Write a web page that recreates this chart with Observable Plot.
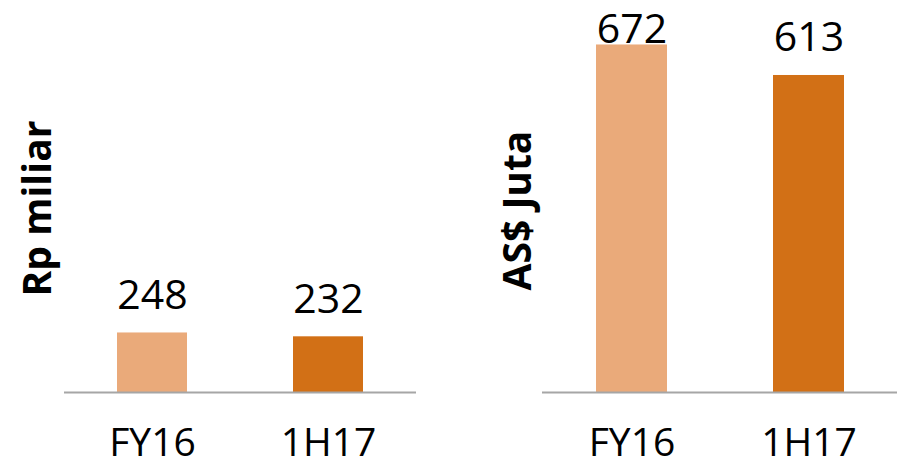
<!DOCTYPE html>
<html>
<head>
<meta charset="utf-8">
<script src="https://cdn.jsdelivr.net/npm/d3@7"></script>
<script src="https://cdn.jsdelivr.net/npm/@observablehq/plot@0.6"></script>
<style>
  html, body { margin: 0; padding: 0; background: white; }
  #wrap { display: flex; width: 897px; height: 462px; }
</style>
</head>
<body>
<div id="wrap"></div>
<script>
const categories = ["FY16", "1H17"];
const rpValues = [248, 232];
const audValues = [672, 613];
const barColors = ["#EAAA7A", "#D27016"];
const rpTitle = "Rp miliar";
const audTitle = "AS$ Juta";

function panel({values, yMax, title, width, marginLeft, marginRight, titleDx, titleDy}) {
  const data = categories.map((c, i) => ({cat: c, value: values[i], color: barColors[i]}));
  const H = 462, mb = 70, plotH = H - mb;
  const k = plotH / yMax;
  return Plot.plot({
    width, height: H, marginTop: 0, marginBottom: mb, marginLeft, marginRight,
    style: {fontFamily: "'Open Sans', sans-serif", background: "white", color: "black"},
    x: {domain: categories, paddingInner: 0.6, paddingOuter: 0.3, label: null},
    y: {domain: [0, yMax], axis: null},
    color: {type: "identity"},
    marks: [
      Plot.barY(data, {x: "cat", y: "value", fill: "color"}),
      Plot.ruleY([0], {stroke: "#A6A6A6", strokeWidth: 2}),
      Plot.text(data, {
        x: "cat",
        y: d => Math.min(d.value + 24 / k, (plotH - 42) / k),
        text: d => String(d.value),
        lineAnchor: "bottom", fontSize: 41, fill: "black"
      }),
      Plot.axisX({tickSize: 0, tickPadding: 36, fontSize: 39, label: null}),
      Plot.text([title], {
        frameAnchor: "left", textAnchor: "middle", rotate: -90, dx: titleDx, dy: titleDy,
        fontSize: 39, fontWeight: "bold", lineAnchor: "bottom", fill: "black"
      })
    ]
  });
}

const wrap = document.getElementById("wrap");
wrap.append(panel({values: rpValues, yMax: 1633, title: rpTitle, width: 448, marginLeft: 64, marginRight: 32, titleDx: -14, titleDy: 12}));
wrap.append(panel({values: audValues, yMax: 758, title: audTitle, width: 449, marginLeft: 94, marginRight: 0, titleDx: -12, titleDy: 14}));
</script>
</body>
</html>
